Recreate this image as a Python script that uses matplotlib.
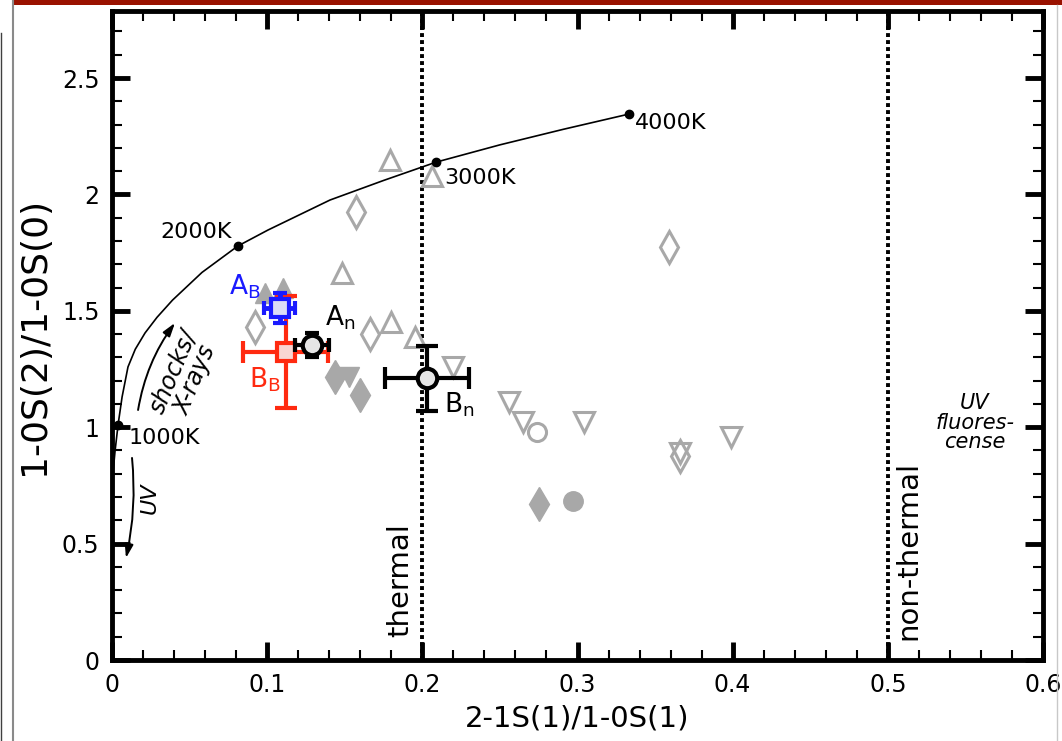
import matplotlib
matplotlib.use('Agg')
from matplotlib import pyplot as plt
from matplotlib.lines import Line2D
from matplotlib.patches import Rectangle
import numpy as np

plt.rcParams['font.family'] = ['DejaVu Sans']
plt.rcParams['mathtext.default'] = 'regular'

# thermal (LTE) track
curve_x = [0.0003, 0.002, 0.0039, 0.0065, 0.0103, 0.015, 0.0213, 0.029, 0.039, 0.058,
           0.081, 0.1005, 0.1405, 0.175, 0.209, 0.25, 0.291, 0.333]
curve_y = [0.78, 0.90, 1.01, 1.13, 1.259, 1.335, 1.405, 1.472, 1.546, 1.665,
           1.778, 1.847, 1.976, 2.06, 2.139, 2.213, 2.28, 2.345]
temp_x = [0.0039, 0.081, 0.209, 0.333]
temp_y = [1.01, 1.778, 2.139, 2.345]
temp_labels = ['1000K', '2000K', '3000K', '4000K']

# literature values (grey)
tri_up_x = [0.179, 0.206, 0.148, 0.180, 0.195]
tri_up_y = [2.148, 2.079, 1.662, 1.452, 1.387]
tri_dn_x = [0.220, 0.256, 0.265, 0.304, 0.399, 0.366]
tri_dn_y = [1.259, 1.108, 1.022, 1.022, 0.958, 0.889]
diam_x = [0.157, 0.359, 0.092, 0.166, 0.366]
diam_y = [1.924, 1.774, 1.43, 1.40, 0.876]
circ_x = [0.274]
circ_y = [0.979]
ftri_up_x = [0.0986, 0.110]
ftri_up_y = [1.576, 1.598]
ftri_dn_x = [0.1525]
ftri_dn_y = [1.217]
fdiam_x = [0.1435, 0.160, 0.275]
fdiam_y = [1.216, 1.137, 0.670]
fcirc_x = [0.297]
fcirc_y = [0.683]

# our knots
names = ['B_B', 'A_B', 'A_n', 'B_n']
knot_x = [0.112, 0.108, 0.129, 0.203]
knot_y = [1.323, 1.512, 1.353, 1.211]
knot_xerr = [0.0275, 0.010, 0.011, 0.027]
knot_yerr = [0.24, 0.065, 0.05, 0.14]

fig = plt.figure(figsize=(10.62, 7.41), dpi=100)
ax = fig.add_axes([112 / 1062, 81 / 741, 931 / 1062, 649 / 741])

grey = '#a8a8a8'
ax.plot(curve_x, curve_y, color='k', lw=1.2, zorder=2)
ax.plot(temp_x, temp_y, 'o', color='k', ms=6, zorder=3)
ax.text(temp_x[0] + 0.0065, temp_y[0] - 0.055, temp_labels[0], fontsize=16, ha='left', va='center')
ax.text(temp_x[1] - 0.004, temp_y[1] + 0.06, temp_labels[1], fontsize=16, ha='right', va='center')
ax.text(temp_x[2] + 0.005, temp_y[2] - 0.07, temp_labels[2], fontsize=16, ha='left', va='center')
ax.text(temp_x[3] + 0.004, temp_y[3] - 0.04, temp_labels[3], fontsize=16, ha='left', va='center')

ax.plot(tri_up_x, tri_up_y, '^', ms=14, mfc='white', mec=grey, mew=2.2, zorder=2)
ax.plot(tri_dn_x, tri_dn_y, 'v', ms=14, mfc='white', mec=grey, mew=2.2, zorder=2)
ax.plot(diam_x, diam_y, 'd', ms=16, mfc='none', mec=grey, mew=2.2, zorder=2)
ax.plot(circ_x, circ_y, 'o', ms=13, mfc='white', mec=grey, mew=2.2, zorder=2)
ax.plot(ftri_up_x, ftri_up_y, '^', ms=14, color=grey, zorder=2)
ax.plot(ftri_dn_x, ftri_dn_y, 'v', ms=15, color=grey, zorder=2)
ax.plot(fdiam_x, fdiam_y, 'd', ms=17, color=grey, zorder=2)
ax.plot(fcirc_x, fcirc_y, 'o', ms=14, color=grey, zorder=2)

# vertical dividers
ax.axvline(0.2, color='k', ls=(0, (1, 0.8)), lw=2.8, zorder=1)
ax.axvline(0.5, color='k', ls=(0, (1, 0.8)), lw=2.8, zorder=1)

styles = {
    'B_B': dict(fmt='s', color='#ff2a10', mfc='#f9d6d2', mec='#ff2a10', ms=13, mew=3,
                elinewidth=3, capsize=8, capthick=3, zorder=4),
    'A_B': dict(fmt='s', color='#1a1aff', mfc='#dcdcf6', mec='#1a1aff', ms=13, mew=3,
                elinewidth=3.5, capsize=5, capthick=4, zorder=5),
    'A_n': dict(fmt='o', color='k', mfc='#e6e6e6', mec='k', ms=14, mew=3,
                elinewidth=3, capsize=5, capthick=4, zorder=6),
    'B_n': dict(fmt='o', color='k', mfc='#e6e6e6', mec='k', ms=14, mew=3,
                elinewidth=3, capsize=8, capthick=3, zorder=6),
}
for i, n in enumerate(names):
    ax.errorbar(knot_x[i], knot_y[i], xerr=knot_xerr[i], yerr=knot_yerr[i], **styles[n])

ax.text(0.0857, 1.602, r'A$_\mathregular{B}$', color='#1a1aff', fontsize=19, ha='center', va='center')
ax.text(0.0986, 1.203, r'B$_\mathregular{B}$', color='#ff2a10', fontsize=19, ha='center', va='center')
ax.text(0.147, 1.469, r'A$_\mathregular{n}$', color='k', fontsize=19, ha='center', va='center')
ax.text(0.224, 1.095, r'B$_\mathregular{n}$', color='k', fontsize=19, ha='center', va='center')

# excitation mechanism arrows
ax.annotate('', xy=(0.0406, 1.448), xytext=(0.0168, 1.074),
            arrowprops=dict(arrowstyle='-|>,head_length=0.8,head_width=0.25', color='k', lw=1.4,
                            connectionstyle='arc3,rad=-0.12', shrinkA=0, shrinkB=0))
ax.annotate('', xy=(0.009, 0.438), xytext=(0.0129, 0.868),
            arrowprops=dict(arrowstyle='-|>,head_length=0.8,head_width=0.25', color='k', lw=1.4,
                            connectionstyle='arc3,rad=-0.08', shrinkA=0, shrinkB=0))
ax.text(0.0465, 1.22, 'shocks/\nX-rays', fontsize=17, style='italic', rotation=67,
        ha='center', va='center', linespacing=0.95)
ax.text(0.0245, 0.696, 'UV', fontsize=16, style='italic', rotation=90, ha='center', va='center')
ax.text(0.186, 0.099, 'thermal', fontsize=21, rotation=90, ha='center', va='bottom')
ax.text(0.513, 0.086, 'non-thermal', fontsize=21, rotation=90, ha='center', va='bottom')
ax.text(0.556, 1.02, 'UV\nfluores-\ncense', fontsize=15, style='italic', ha='center', va='center',
        linespacing=0.95)

ax.set_xlim(0, 0.6)
ax.set_ylim(0, 2.788)
ax.set_xticks(np.arange(0, 0.61, 0.1))
ax.set_xticklabels(['0', '0.1', '0.2', '0.3', '0.4', '0.5', '0.6'])
ax.set_xticks(np.arange(0, 0.601, 0.02), minor=True)
ax.set_yticks(np.arange(0, 2.51, 0.5))
ax.set_yticklabels(['0', '0.5', '1', '1.5', '2', '2.5'])
ax.set_yticks(np.arange(0, 2.79, 0.1), minor=True)
ax.tick_params(which='both', direction='in', top=True, right=True, labelsize=17)
ax.tick_params(which='major', length=13, width=3.5, pad=9)
ax.tick_params(which='minor', length=7, width=1.5)
for s in ax.spines.values():
    s.set_linewidth(3.5)

ax.set_xlabel('2-1S(1)/1-0S(1)', fontsize=21, labelpad=6)
ax.set_ylabel('1-0S(2)/1-0S(0)', fontsize=26, labelpad=8)

# window edges around the panel
fig.add_artist(Rectangle((14 / 1062, 1 - 5 / 741), 1, 5 / 741, transform=fig.transFigure,
                         color='#9a1200', lw=0))
fig.add_artist(Line2D([13 / 1062, 13 / 1062], [0, 1], transform=fig.transFigure,
                      color='#8a8a8a', lw=1.5))
fig.add_artist(Line2D([1 / 1062, 1 / 1062], [0, 1 - 33 / 741], transform=fig.transFigure,
                      color='#404040', lw=1))
fig.add_artist(Line2D([1057 / 1062, 1057 / 1062], [0, 1 - 5 / 741], transform=fig.transFigure,
                      color='#c8c8c8', lw=1))

fig.savefig('out.png', dpi=100)
